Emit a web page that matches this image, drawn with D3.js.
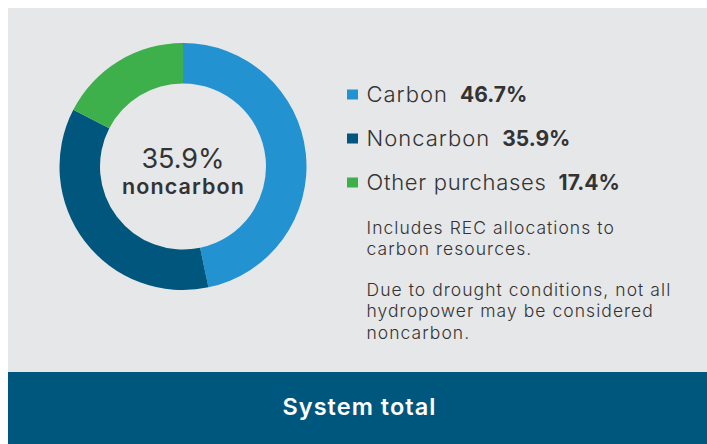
<!DOCTYPE html>
<html><head><meta charset="utf-8">
<script src="https://cdn.jsdelivr.net/npm/d3@7"></script>
<style>
html,body{margin:0;padding:0;background:#fff;}
svg{display:block;}
text{font-family:Inter,"Open Sans",sans-serif;}
</style></head>
<body>
<svg id="c" width="707" height="444"></svg>
<script>
const categories = ["Carbon", "Noncarbon", "Other purchases"];
const values = [46.7, 35.9, 17.4];
const colors = ["#2392d1", "#00567d", "#3db04b"];
const centerValue = "35.9%";
const centerLabel = "noncarbon";
const notes = [
  ["Includes REC allocations to", "carbon resources."],
  ["Due to drought conditions, not all", "hydropower may be considered", "noncarbon."]
];
const footer = "System total";

const svg = d3.select("#c");
svg.append("rect").attr("x", 8).attr("y", 8).attr("width", 699).attr("height", 364).attr("fill", "#e6e7e8");
svg.append("rect").attr("x", 8).attr("y", 372).attr("width", 699).attr("height", 72).attr("fill", "#00577e");

const data = categories.map((c, i) => ({ name: c, value: values[i], color: colors[i] }));
const pie = d3.pie().value(d => d.value).sort(null);
const arc = d3.arc().innerRadius(83).outerRadius(123.5);
const g = svg.append("g").attr("transform", "translate(183,166.5)");
g.selectAll("path").data(pie(data)).join("path").attr("d", arc).attr("fill", d => d.data.color);

const ct = g.append("text").attr("text-anchor", "middle").attr("y", 1.5).attr("fill", "#333");
ct.append("tspan").attr("x", 0).attr("font-size", 27).attr("font-weight", 400).text(centerValue);
ct.append("tspan").attr("x", 0.5).attr("dy", 25.5).attr("font-size", 21.5).attr("font-weight", 600)
  .attr("letter-spacing", 1.1).text(centerLabel);

const leg = svg.append("g");
data.forEach((d, i) => {
  const y = 102 + i * 44;
  leg.append("rect").attr("x", 347).attr("y", y - 12.5).attr("width", 11).attr("height", 10).attr("fill", d.color);
  const t = leg.append("text").attr("x", 366.5).attr("y", y).attr("font-size", 22).attr("fill", "#333");
  t.append("tspan").attr("font-weight", 300).attr("letter-spacing", i === 2 ? 0.7 : 1).text(d.name);
  t.append("tspan").attr("dx", 12).attr("font-weight", 700).attr("font-size", 21)
    .attr("letter-spacing", 0).text(d.value.toFixed(1) + "%");
});

let ny = 233.5;
notes.forEach((para) => {
  const t = svg.append("text").attr("x", 366.5).attr("y", ny).attr("font-size", 17.5)
    .attr("font-weight", 300).attr("letter-spacing", 1.05).attr("fill", "#333");
  para.forEach((line, li) => {
    t.append("tspan").attr("x", 366.5).attr("dy", li === 0 ? 0 : 21.5).text(line);
  });
  ny += para.length * 21.5 + 19.2;
});

svg.append("text").attr("x", 359.5).attr("y", 415).attr("text-anchor", "middle").attr("font-size", 23.5)
  .attr("letter-spacing", 1.05).attr("font-weight", 600).attr("fill", "#fff").text(footer);
</script>
</body></html>
